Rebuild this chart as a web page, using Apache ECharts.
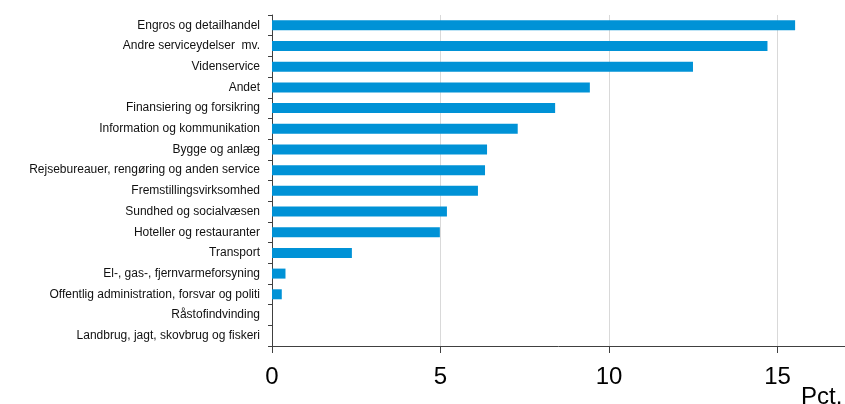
<!DOCTYPE html>
<html>
<head>
<meta charset="utf-8">
<script src="https://cdn.jsdelivr.net/npm/echarts@6/dist/echarts.min.js"></script>
<style>
html,body{margin:0;padding:0;background:#fff;}
#c{width:845px;height:404px;}
</style>
</head>
<body>
<div id="c"></div>
<script>
var categories = [
  "Engros og detailhandel",
  "Andre serviceydelser  mv.",
  "Videnservice",
  "Andet",
  "Finansiering og forsikring",
  "Information og kommunikation",
  "Bygge og anlæg",
  "Rejsebureauer, rengøring og anden service",
  "Fremstillingsvirksomhed",
  "Sundhed og socialvæsen",
  "Hoteller og restauranter",
  "Transport",
  "El-, gas-, fjernvarmeforsyning",
  "Offentlig administration, forsvar og politi",
  "Råstofindvinding",
  "Landbrug, jagt, skovbrug og fiskeri"
];
var values = [15.52, 14.70, 12.49, 9.43, 8.40, 7.29, 6.38, 6.32, 6.11, 5.19, 4.98, 2.37, 0.40, 0.29, 0, 0];
var unitLabel = "Pct.";

var chart = echarts.init(document.getElementById('c'));
chart.setOption({
  animation: false,
  grid: {left: 272, right: 0, top: 15, bottom: 58, containLabel: false},
  xAxis: {
    type: 'value', min: 0, max: 17, interval: 5,
    axisLine: {show: true, lineStyle: {color: '#404040', width: 1}},
    axisTick: {show: true, length: 7, lineStyle: {color: '#404040'}},
    axisLabel: {fontSize: 24, color: '#000', margin: 19, fontFamily: 'Liberation Sans, Arial', showMaxLabel: false},
    splitLine: {show: true, lineStyle: {color: '#d9d9d9', width: 1}}
  },
  yAxis: {
    type: 'category', data: categories, inverse: true,
    axisLine: {show: true, lineStyle: {color: '#404040', width: 1}},
    axisTick: {show: true, length: 4, inside: false, lineStyle: {color: '#404040'}},
    axisLabel: {fontSize: 12, color: '#111', margin: 12, fontFamily: 'Liberation Sans, Arial'},
    splitLine: {show: false}
  },
  series: [{
    type: 'bar', data: values, barWidth: 10,
    itemStyle: {color: '#0092d6'}
  }],
  graphic: [{
    type: 'text', left: 801, top: 385,
    style: {text: unitLabel, fontSize: 24, fill: '#000', fontFamily: 'Liberation Sans, Arial'}
  }]
});
</script>
</body>
</html>
